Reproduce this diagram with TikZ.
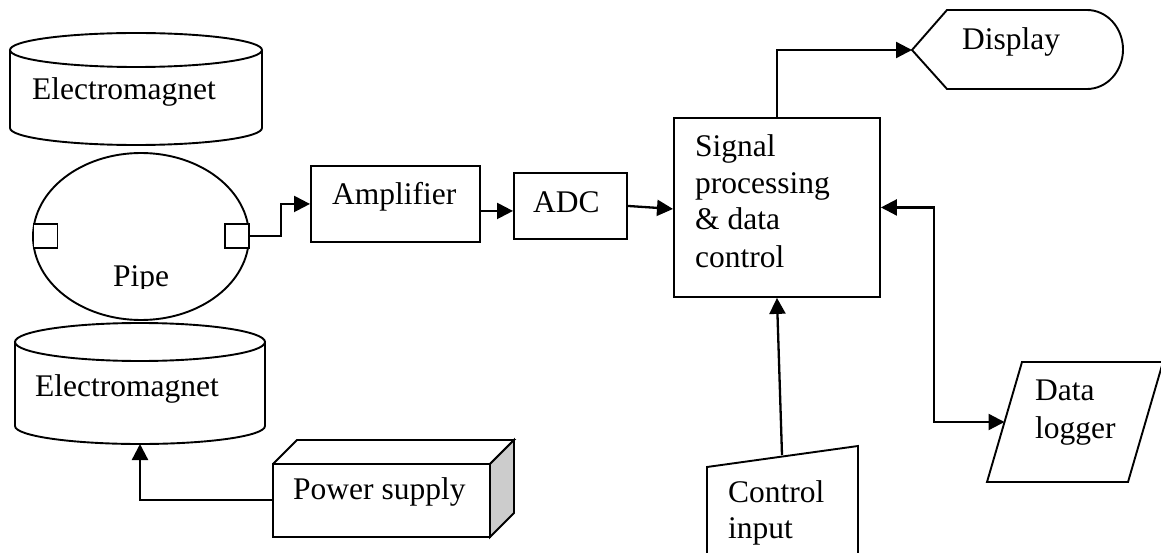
\documentclass[tikz,border=0pt]{standalone}
\usepackage{fontspec}
\setmainfont{Liberation Serif}
\usetikzlibrary{arrows.meta,calc}
\begin{document}
\begin{tikzpicture}[x=1pt,y=-1pt,
  outline/.style={line width=1.9pt,line join=miter},
  link/.style={line width=2.3pt,-{Triangle[length=16pt,width=16pt]}},
  duplex/.style={line width=2.3pt,{Triangle[length=16pt,width=16pt]}-{Triangle[length=16pt,width=16pt]}},
  txt/.style={anchor=base west,inner sep=0pt,font=\fontsize{31.5}{36.5}\selectfont},
  block/.style={draw,line width=1.9pt,rectangle,anchor=north west,inner sep=0pt},
  sensor/.style={draw,fill=white,line width=1.9pt,rectangle,inner sep=0pt,minimum size=24pt}]
\useasboundingbox (0,0) rectangle (1161,553);

% upper electromagnet (cylinder)
\draw[outline] (136,50) ellipse [x radius=126, y radius=17];
\draw[outline] (10,50) -- (10,128)
  .. controls (10,137.4) and (66.4,145) .. (136,145)
  .. controls (205.6,145) and (262,137.4) .. (262,128) -- (262,50);
\node[txt] (em1) at (32,100) {Electromagnet};

% pipe cross-section with electrodes
\draw[outline] (141,236.5) ellipse [x radius=108, y radius=83.5];
\node[sensor] (lsq) at (45.5,236) {};
\node[sensor] (rsq) at (237,236) {};
\begin{scope}
  \clip (0,0) rectangle (1161,288);
  \node[txt] (pipe) at (113,287) {Pipe};
\end{scope}

% lower electromagnet (cylinder)
\draw[outline] (140,342) ellipse [x radius=125, y radius=19];
\draw[outline] (15,342) -- (15,426)
  .. controls (15,435.9) and (71,444) .. (140,444)
  .. controls (209,444) and (265,435.9) .. (265,426) -- (265,342);
\coordinate (em2bot) at (140,444);
\node[txt] (em2) at (35,396) {Electromagnet};

% power supply (box)
\draw[outline] (273,464) rectangle (490,537);
\draw[outline] (273,464) -- (297,440) -- (514,440) -- (490,464);
\draw[outline,fill=black!20] (490,464) -- (514,440) -- (514,513) -- (490,537) -- cycle;
\coordinate (psu) at (273,500);
\node[txt] (psutext) at (293,499) {Power supply};

% amplifier and ADC
\node[block,minimum width=169pt,minimum height=76pt] (amp) at (310,165) {};
\node[txt] (amptext) at (332,205) {Amplifier};
\node[block,minimum width=113pt,minimum height=66pt] (adc) at (513,172) {};
\node[txt] (adctext) at (533,213) {ADC};

% signal processing unit
\node[block,minimum width=206pt,minimum height=179pt] (sig) at (673,117) {};
\node[txt] (sig1) at (695,157) {Signal};
\node[txt] (sig2) at (695,194) {processing};
\node[txt] (sig3) at (695,230) {\& data};
\node[txt] (sig4) at (695,268) {control};

% display
\draw[outline] (912,50) -- (947,10) -- (1087,10)
  .. controls (1106.9,10) and (1123,27.7) .. (1123,49.5)
  .. controls (1123,71.3) and (1106.9,89) .. (1087,89)
  -- (947,89) -- cycle;
\coordinate (disp) at (912,50);
\node[txt] (disptext) at (962,50) {Display};

% control input (manual input)
\draw[outline] (707,560) -- (707,467) -- (858,446) -- (858,560);
\coordinate (ctrl) at (782,455);
\node[txt] (ctrl1) at (728,502) {Control};
\node[txt] (ctrl2) at (728,538) {input};

% data logger
\draw[outline] (1022,362) -- (1163,362) -- (1128,482) -- (987,482) -- cycle;
\coordinate (dl) at (1004.5,422);
\node[txt] (dl1) at (1035,400) {Data};
\node[txt] (dl2) at (1035,438) {logger};

% connectors
\draw[link] (rsq.east) -- ++(31,0) |- (amp.west);
\draw[link] ($(amp.east)+(0,7)$) -- ($(adc.west)+(0,5)$);
\draw[link] (adc.east) -- ($(sig.west)+(0,1.5)$);
\draw[link] (sig.north) |- (disp);
\draw[link] (ctrl) -- (sig.south);
\draw[duplex] (sig.east) -- ++(53,0) |- (dl);
\draw[link] (psu) -| (em2bot);
\end{tikzpicture}
\end{document}
